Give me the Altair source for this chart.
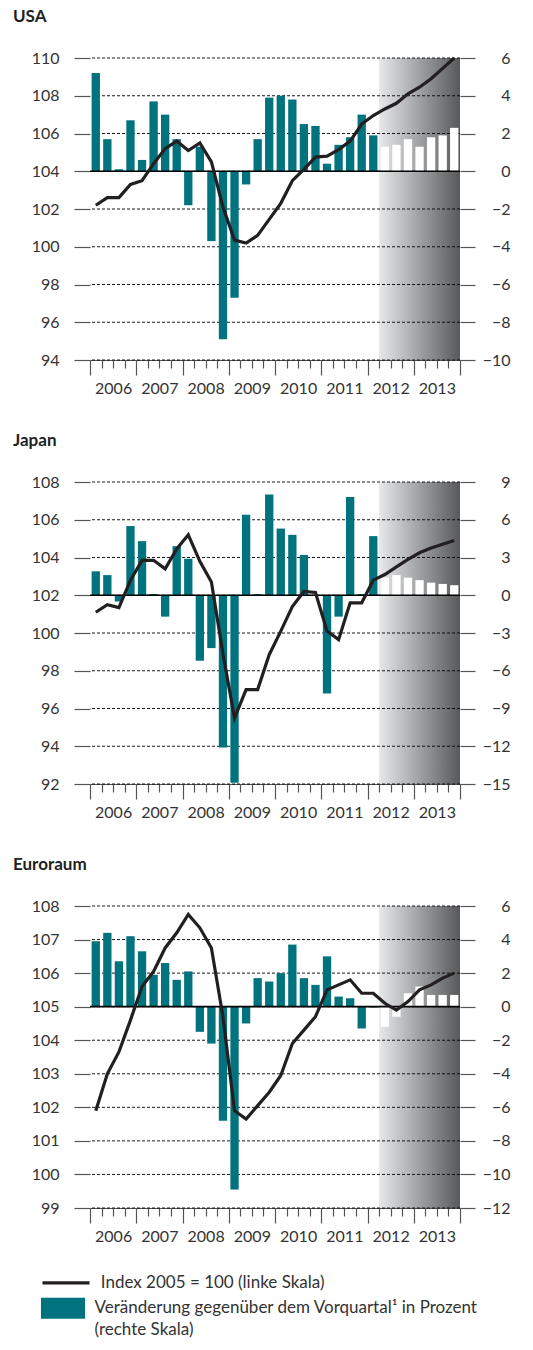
import altair as alt
import pandas as pd

# ---------------- data ----------------
years = [2006, 2007, 2008, 2009, 2010, 2011, 2012, 2013]
forecast_start = 25  # first forecast quarter: 2012 Q2 (index in quarter list)

usa_change = [5.2, 1.7, 0.1, 2.7, 0.6, 3.7, 3.0, 1.7,
              -1.8, 1.3, -3.7, -8.9, -6.7, -0.7, 1.7, 3.9,
              4.0, 3.8, 2.5, 2.4, 0.4, 1.4, 1.8, 3.0,
              1.9, 1.3, 1.4, 1.7, 1.3, 1.8, 1.9, 2.3]
usa_index = [102.2, 102.6, 102.6, 103.3, 103.5, 104.4, 105.2, 105.6,
             105.1, 105.5, 104.5, 102.1, 100.35, 100.2, 100.6, 101.45,
             102.3, 103.5, 104.1, 104.75, 104.8, 105.15, 105.6, 106.5,
             106.95, 107.3, 107.6, 108.1, 108.45, 108.9, 109.45, 110.0]

japan_change = [1.9, 1.6, -0.5, 5.5, 4.3, 0.1, -1.7, 3.9,
                2.9, -5.2, -4.2, -12.1, -14.9, 6.4, 0.1, 8.0,
                5.3, 4.8, 3.2, 0.0, -7.8, -1.7, 7.8, 0.1,
                4.7, 1.4, 1.6, 1.4, 1.2, 1.0, 0.9, 0.8]
japan_index = [101.1, 101.5, 101.35, 102.8, 103.85, 103.85, 103.4, 104.45,
               105.2, 103.8, 102.7, 98.9, 95.5, 97.0, 97.0, 98.85,
               100.1, 101.4, 102.2, 102.15, 100.1, 99.65, 101.6, 101.6,
               102.8, 103.1, 103.5, 103.9, 104.25, 104.5, 104.7, 104.9]

euro_change = [3.9, 4.4, 2.7, 4.2, 3.3, 1.9, 2.6, 1.6,
               2.1, -1.5, -2.2, -6.8, -10.9, -1.0, 1.7, 1.5,
               2.0, 3.7, 1.7, 1.3, 3.0, 0.6, 0.5, -1.3,
               -0.05, -1.2, -0.6, 0.8, 1.2, 0.7, 0.7, 0.7]
euro_index = [101.9, 103.0, 103.65, 104.6, 105.6, 106.05, 106.75, 107.2,
              107.75, 107.35, 106.75, 104.7, 101.9, 101.65, 102.05, 102.45,
              102.95, 103.9, 104.3, 104.7, 105.5, 105.65, 105.8, 105.4,
              105.4, 105.1, 104.9, 105.15, 105.5, 105.65, 105.85, 106.0]

usa_left_ticks = [94, 96, 98, 100, 102, 104, 106, 108, 110]
usa_right_ticks = [-10, -8, -6, -4, -2, 0, 2, 4, 6]
japan_left_ticks = [92, 94, 96, 98, 100, 102, 104, 106, 108]
japan_right_ticks = [-15, -12, -9, -6, -3, 0, 3, 6, 9]
euro_left_ticks = [99, 100, 101, 102, 103, 104, 105, 106, 107, 108]
euro_right_ticks = [-12, -10, -8, -6, -4, -2, 0, 2, 4, 6]

line_label = "Index 2005 = 100 (linke Skala)"
bar_label = "Veränderung gegenüber dem Vorquartal¹ in Prozent"
bar_label2 = "(rechte Skala)"

# ---------------- style ----------------
FONT = "Lato"
TEAL = "#00737f"
LINE = "#231f20"
TICK = "#555555"
TXT = "#333333"
W, H = 370, 302
n_q = len(years) * 4

year_arr = "[" + ",".join("'{}'".format(y) for y in years) + "]"
label_expr = "datum.value % 4 === 2 ? " + year_arr + "[(datum.value - 2) / 4] : ''"
x_axis = alt.Axis(
    values=list(range(n_q + 1)),
    tickSize={"condition": {"test": "datum.value % 4 === 0", "value": 15}, "value": 8},
    tickColor=TICK, tickWidth=1.2, domainColor=TICK, domainWidth=1.2,
    labelExpr=label_expr,
    labelPadding=12, labelFlush=False, labelOverlap=False, labelBound=False,
    grid=False, title=None,
)
x_scale = alt.Scale(domain=[0, n_q], nice=False, zero=False)


def panel(title, change, index, lticks, rticks, with_legend=False):
    df = pd.DataFrame({"q": list(range(n_q)), "change": change, "index": index})
    df["fc"] = df["q"] >= forecast_start
    df["bname"] = bar_label
    df["lname"] = line_label
    shade_df = pd.DataFrame({"start": [forecast_start], "end": [n_q]})
    grid_df = pd.DataFrame({"tick": lticks})

    grad = alt.Gradient(
        gradient="linear",
        stops=[alt.GradientStop(color="#e7e8e9", offset=0),
               alt.GradientStop(color="#58595b", offset=1)],
        x1=0, x2=1, y1=0, y2=0,
    )
    X = lambda f: alt.X(f, scale=x_scale, axis=x_axis, title=None)

    r_scale = alt.Scale(domain=[rticks[0], rticks[-1]], nice=False, zero=False)
    r_axis = alt.Axis(values=rticks, orient="right", tickSize=15, tickColor=TICK,
                      tickWidth=1.2, domain=False, grid=False, labelAlign="right",
                      labelPadding=35, labelOverlap=False, title=None)
    l_scale = alt.Scale(domain=[lticks[0], lticks[-1]], nice=False, zero=False)
    l_axis = alt.Axis(values=lticks, orient="left", tickSize=16, tickColor=TICK,
                      tickWidth=1.2, domain=False, grid=False, labelPadding=15,
                      labelOverlap=False, title=None)

    shade = alt.Chart(shade_df).mark_rect(color=grad).encode(
        x=X("start:Q"), x2="end:Q")

    grid = alt.Chart(grid_df).mark_rule(color="#000000", strokeWidth=0.9,
                                        strokeDash=[3, 2]).encode(
        y=alt.Y("tick:Q", scale=l_scale, axis=None))

    base = alt.Chart(df).transform_calculate(
        x0="datum.q + 0.14", x1="datum.q + 0.86", xm="datum.q + 0.5")

    if with_legend:
        bar_fill = alt.condition(
            "datum.fc", alt.value("#ffffff"),
            alt.Fill("bname:N",
                     scale=alt.Scale(domain=[bar_label, bar_label2],
                                     range=[TEAL, "rgba(0,0,0,0)"]),
                     legend=alt.Legend(title=None, orient="none", legendX=-37.5, legendY=391.7,
                                       symbolType="M-2.1,-1H2.1V1H-2.1Z", symbolSize=441,
                                       symbolStrokeWidth=0, symbolOpacity=1,
                                       labelFont=FONT, labelFontSize=17, labelColor=TXT,
                                       labelOffset=21, labelLimit=600, rowPadding=1,
                                       padding=0)))
    else:
        bar_fill = alt.condition("datum.fc", alt.value("#ffffff"), alt.value(TEAL))

    bars = base.mark_rect().encode(
        x=X("x0:Q"), x2="x1:Q",
        y=alt.Y("change:Q", scale=r_scale, axis=r_axis, title=None),
        y2=alt.datum(0),
        fill=bar_fill,
    )

    zero = alt.Chart(shade_df).mark_rule(color="#000000", strokeWidth=1.6).encode(
        y=alt.datum(0, scale=r_scale, axis=None))

    line_enc = dict(
        x=X("xm:Q"),
        y=alt.Y("index:Q", scale=l_scale, axis=l_axis, title=None),
    )
    if with_legend:
        line_enc["stroke"] = alt.Stroke(
            "lname:N",
            scale=alt.Scale(domain=[line_label], range=[LINE]),
            legend=alt.Legend(title=None, orient="none", legendX=-49.5, legendY=351.4,
                              symbolType="stroke", symbolSize=2209, symbolStrokeWidth=3.2,
                              labelFont=FONT, labelFontSize=17, labelColor=TXT,
                              labelOffset=9.3, labelLimit=600, padding=0),
        )
        line = base.mark_line(strokeWidth=3.2).encode(**line_enc)
    else:
        line = base.mark_line(color=LINE, strokeWidth=3.2).encode(**line_enc)

    return alt.layer(shade, grid, bars, zero, line).resolve_scale(
        y="independent").properties(
        width=W, height=H,
        title=alt.TitleParams(title, anchor="start", frame="group", dx=-77, offset=24,
                              font=FONT, fontSize=17, fontWeight="bold", color="#222222"),
    )


usa = panel("USA", usa_change, usa_index, usa_left_ticks, usa_right_ticks)
japan = panel("Japan", japan_change, japan_index, japan_left_ticks, japan_right_ticks)
euro = panel("Euroraum", euro_change, euro_index, euro_left_ticks, euro_right_ticks,
             with_legend=True)

chart = alt.vconcat(usa, japan, euro, spacing=29).resolve_scale(
    fill="independent", stroke="independent"
).properties(
    padding={"left": 5, "top": 0, "right": 5, "bottom": 0},
    background="white",
).configure_view(stroke=None).configure_axis(
    labelFont=FONT, labelFontSize=16, labelColor=TXT,
)

chart.save("out.html", embed_options={"renderer": "svg", "actions": False})
